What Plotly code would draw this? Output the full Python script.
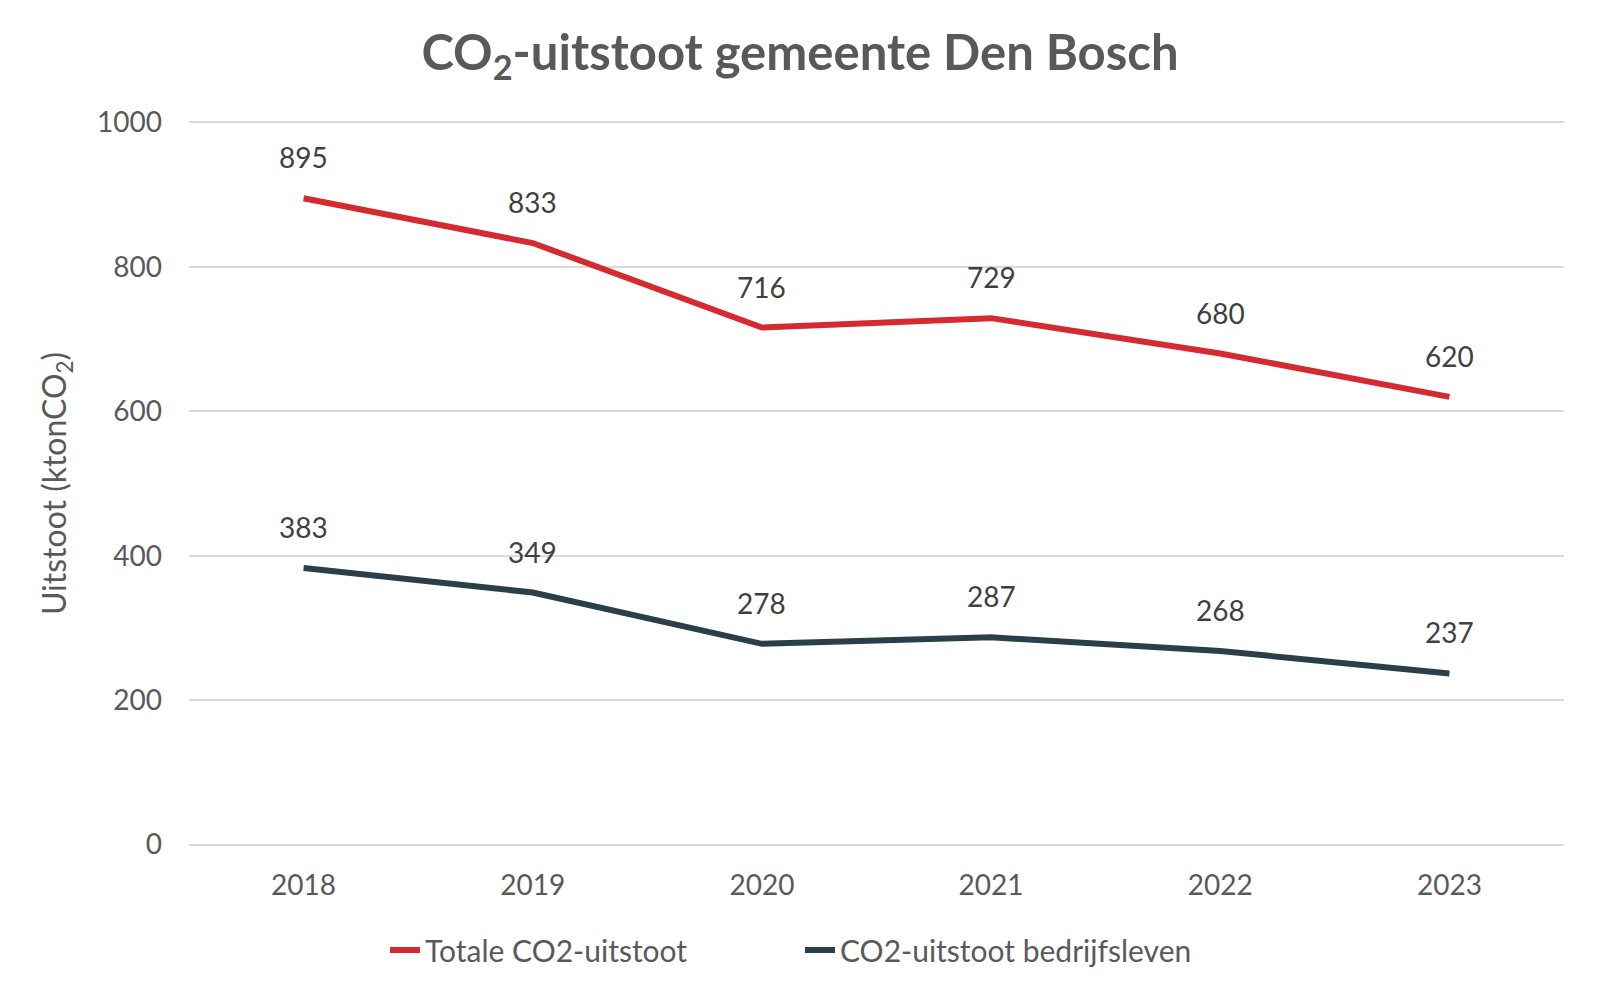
import plotly.graph_objects as go

years = ["2018", "2019", "2020", "2021", "2022", "2023"]
totaal = [895, 833, 716, 729, 680, 620]
bedrijfsleven = [383, 349, 278, 287, 268, 237]
y_ticks = [0, 200, 400, 600, 800, 1000]

RED = "#d42a30"
DARK = "#2b3f48"
FONT = "Lato"

fig = go.Figure()
fig.add_trace(go.Scatter(x=years, y=totaal, mode="lines", name="Totale CO2-uitstoot",
                         line=dict(color=RED, width=6)))
fig.add_trace(go.Scatter(x=years, y=bedrijfsleven, mode="lines", name="CO2-uitstoot bedrijfsleven",
                         line=dict(color=DARK, width=6)))

for series in (totaal, bedrijfsleven):
    for i, v in enumerate(series):
        fig.add_annotation(x=i, y=v, xref="x", yref="y", text=str(v), showarrow=False,
                           yshift=41, font=dict(family=FONT, size=28, color="#404040"))

fig.update_layout(
    width=1600, height=998,
    margin=dict(l=189, r=36, t=121, b=152),
    paper_bgcolor="white", plot_bgcolor="white",
    font=dict(family=FONT, color="#595959"),
    title=dict(text="<b>CO<sub>2</sub>-uitstoot gemeente Den Bosch</b>",
               x=0.5, xanchor="center", xref="container",
               y=1 - 53/998, yanchor="middle", yref="container",
               font=dict(family=FONT, size=49, color="#595959")),
    xaxis=dict(type="category", range=[-0.5, 5.5], showgrid=False, showline=False,
               ticks="", tickfont=dict(family=FONT, size=28, color="#595959"),
               ticklabelstandoff=20, zeroline=False),
    yaxis=dict(range=[-2, 1002], tickvals=y_ticks, showgrid=True, gridcolor="#d9d9d9",
               gridwidth=1.5, zeroline=False, showline=False, ticks="",
               tickfont=dict(family=FONT, size=28, color="#595959"),
               ticklabelstandoff=26,
               title=dict(text="Uitstoot (ktonCO<sub>2</sub>)", standoff=20,
                          font=dict(family=FONT, size=32, color="#595959"))),
    legend=dict(orientation="h", xref="container", yref="container",
                x=0.5, xanchor="center", y=1 - 950/998, yanchor="middle",
                font=dict(family=FONT, size=30, color="#595959"),
                entrywidth=370, entrywidthmode="pixels"),
    showlegend=True,
)

fig.write_html("out.html")
